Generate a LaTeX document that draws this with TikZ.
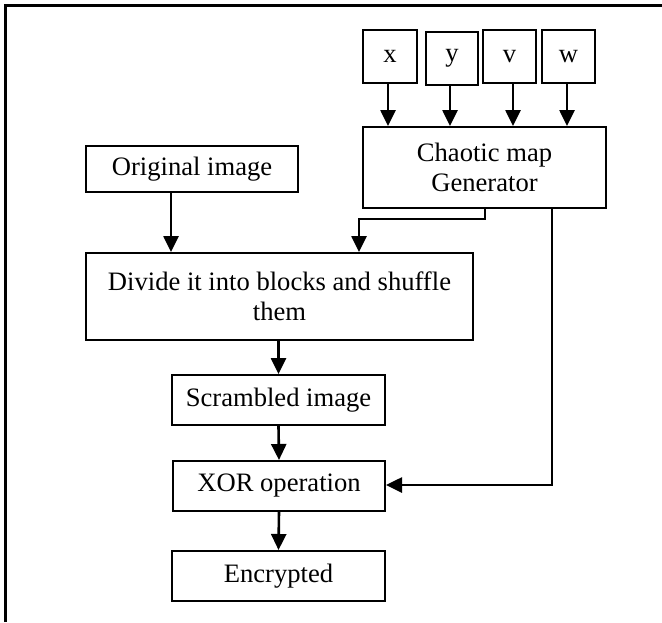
\documentclass[tikz,border=0pt]{standalone}
\usepackage{fontspec}
\setmainfont{Liberation Serif}
\usetikzlibrary{arrows.meta}
\begin{document}
\begin{tikzpicture}[x=1pt,y=-1pt,
  box/.style={draw, line width=2pt, inner sep=0pt, align=center,
    font=\fontsize{26.6}{30}\selectfont},
  conn/.style={line width=2.6pt, -{Triangle[length=16pt,width=15pt]}}]
\useasboundingbox (0,0) rectangle (662,622);
\draw[line width=3pt] (5.8,622) -- (5.8,5.6) -- (662,5.6);
% input boxes
\node[box, minimum width=54pt, minimum height=53pt] (x) at (390,56.5) {x};
\node[box, minimum width=52pt, minimum height=53pt] (y) at (452,58.5) {y};
\node[box, minimum width=53pt, minimum height=53pt] (v) at (509.5,56.5) {v};
\node[box, minimum width=53pt, minimum height=53pt] (w) at (568.5,56.5) {w};
% main boxes
\node[box, minimum width=243pt, minimum height=81pt] (gen) at (484.5,167.5) {Chaotic map\\Generator};
\node[box, minimum width=212pt, minimum height=46pt] (orig) at (192,169) {Original image};
\node[box, minimum width=387pt, minimum height=87pt] (div) at (279.5,296.5) {Divide it into blocks and shuffle\\them};
\node[box, minimum width=213pt, minimum height=50pt] (scr) at (278.5,400) {Scrambled image};
\node[box, minimum width=212pt, minimum height=50pt] (xor) at (279,486) {XOR operation};
\node[box, minimum width=213pt, minimum height=50pt] (enc) at (278.5,576) {Encrypted};
% helper coordinates
\coordinate (g1) at (485,219);
\coordinate (g2) at (359,219);
\coordinate (r1) at (552,208);
\coordinate (r2) at (552,485);
% connectors
\draw[conn] ([xshift=-2pt]x.south) -- ([xshift=-2pt]x.south |- gen.north);
\draw[conn] ([xshift=-2pt]y.south) -- ([xshift=-2pt]y.south |- gen.north);
\draw[conn] ([xshift=3.5pt]v.south) -- ([xshift=3.5pt]v.south |- gen.north);
\draw[conn] ([xshift=-1.5pt]w.south) -- ([xshift=-1.5pt]w.south |- gen.north);
\draw[conn] (orig.south -| 171,0) -- (div.north -| 171,0);
\draw[conn] (gen.south -| g1) -- (g1) -- (g2) -- (div.north -| g2);
\draw[conn] (r1) -- (r2) -- (xor.east |- r2);
\draw[conn] (div.south -| scr.north) -- (scr.north);
\draw[conn] (scr.south) -- (xor.north);
\draw[conn] (xor.south) -- (enc.north);
\end{tikzpicture}
\end{document}
